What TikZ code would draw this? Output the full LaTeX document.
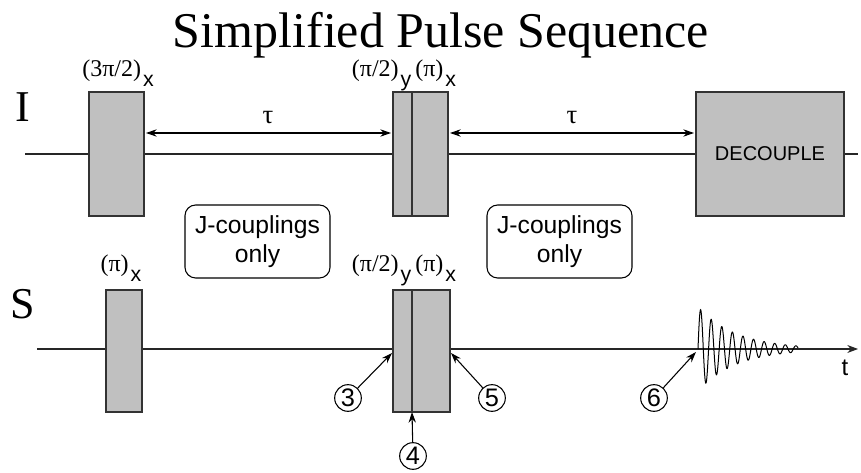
\documentclass[tikz,border=0pt]{standalone}
\usepackage{fontspec}
\setmainfont{Liberation Serif}
\setsansfont{Liberation Sans}
\usetikzlibrary{arrows.meta}
\definecolor{pulsegray}{HTML}{C0C0C0}
\definecolor{edgegray}{HTML}{333333}
% lowered sans-serif subscript for pulse phases
\newcommand\phasesub[1]{\hspace{1.5pt}\raisebox{-7pt}{\fontsize{16}{16}\sffamily #1}}
\begin{document}
\begin{tikzpicture}[x=0.75pt,y=-0.75pt,
  pulse/.style={draw=edgegray, fill=pulsegray, line width=0.8pt,
    inner sep=0pt, outer sep=0pt},
  axisline/.style={line width=0.8pt, black!85},
  dim/.style={line width=0.8pt, {Stealth[length=8pt,width=5.5pt]}-{Stealth[length=8pt,width=5.5pt]}},
  pointer/.style={line width=0.8pt, -{Stealth[length=8pt,width=5.5pt]}},
  plabel/.style={anchor=base, inner sep=0pt, font=\fontsize{18}{21}\selectfont},
  jbox/.style={draw, rounded corners=8pt, line width=0.8pt, minimum width=108.75pt,
    minimum height=54.75pt, align=center, font=\fontsize{18.5}{21.5}\sffamily},
  num/.style={draw, circle, line width=0.8pt, minimum size=20pt, inner sep=0pt,
    font=\fontsize{19}{19}\sffamily},
  chan/.style={font=\fontsize{33}{36}\selectfont}]
\useasboundingbox (0,0) rectangle (861,473);

% title
\node[anchor=base] (title) at (441,48) {\fontsize{37.5}{42}\selectfont Simplified Pulse Sequence};

% channel labels
\node[chan] (chI) at (23,107) {I};
\node[chan] (chS) at (23,304) {S};

% channel lines
\coordinate (iL) at (25,154);
\coordinate (iR) at (858,154);
\coordinate (sL) at (37,349);
\coordinate (sR) at (858,349);
\draw[axisline] (iL) -- (iR);
\draw[axisline, -{Stealth[length=8pt,width=6pt]}] (sL) -- (sR);
\node[font=\fontsize{18}{18}\sffamily] (tlab) at (845,368) {t};

% I channel pulses
\node[pulse, minimum width=41.25pt, minimum height=93pt] (i1) at (116.5,154) {};
\node[pulse, minimum width=14.25pt, minimum height=93pt] (i2a) at (402.5,154) {};
\node[pulse, minimum width=27pt, minimum height=93pt] (i2b) at (430,154) {};
\node[pulse, minimum width=111pt, minimum height=93pt, font=\fontsize{15}{15}\sffamily] (dec) at (770,154) {DECOUPLE};

% S channel pulses
\node[pulse, minimum width=27pt, minimum height=91.5pt] (s1) at (124,351) {};
\node[pulse, minimum width=14.25pt, minimum height=91.5pt] (s2a) at (402.5,351) {};
\node[pulse, minimum width=28.5pt, minimum height=91.5pt] (s2b) at (431,351) {};

% pulse labels
\node[plabel] (li1) at (118,77) {(3π/2)\phasesub{x}};
\node[plabel] (li2) at (404,77) {(π/2)\phasesub{y}\,(π)\phasesub{x}};
\node[plabel] (ls1) at (121,272) {(π)\phasesub{x}};
\node[plabel] (ls2) at (404,272) {(π/2)\phasesub{y}\,(π)\phasesub{x}};

% evolution delays
\coordinate (tauy) at (0,133);
\draw[dim, shorten <=1.5pt, shorten >=1.5pt] (i1.east |- tauy) -- (i2a.west |- tauy);
\draw[dim, shorten <=1.5pt, shorten >=1.5pt] (i2b.east |- tauy) -- (dec.west |- tauy);
\node[font=\fontsize{20}{20}\selectfont] (tau1) at (268,118) {τ};
\node[font=\fontsize{20}{20}\selectfont] (tau2) at (572,118) {τ};

% coupling boxes
\node[jbox] (j1) at (257.5,241.5) {J-couplings\\only};
\node[jbox] (j2) at (559.5,241.5) {J-couplings\\only};

% free induction decay
\draw[line width=0.75pt, black] plot[domain=0:100, samples=500, smooth]
  ({698+\x}, {349 - 42*exp(-\x/38)*sin(34*\x)});

% time points
\node[num] (n3) at (348,398) {3};
\node[num] (n4) at (413,456) {4};
\node[num] (n5) at (492,398) {5};
\node[num] (n6) at (654,398) {6};
\coordinate (p3) at (392,353);
\coordinate (p5) at (451,353);
\coordinate (p6) at (696,352);
\draw[pointer] (n3) -- (p3);
\draw[pointer] (n4) -- (s2a.south east);
\draw[pointer] (n5) -- (p5);
\draw[pointer] (n6) -- (p6);
\end{tikzpicture}
\end{document}
